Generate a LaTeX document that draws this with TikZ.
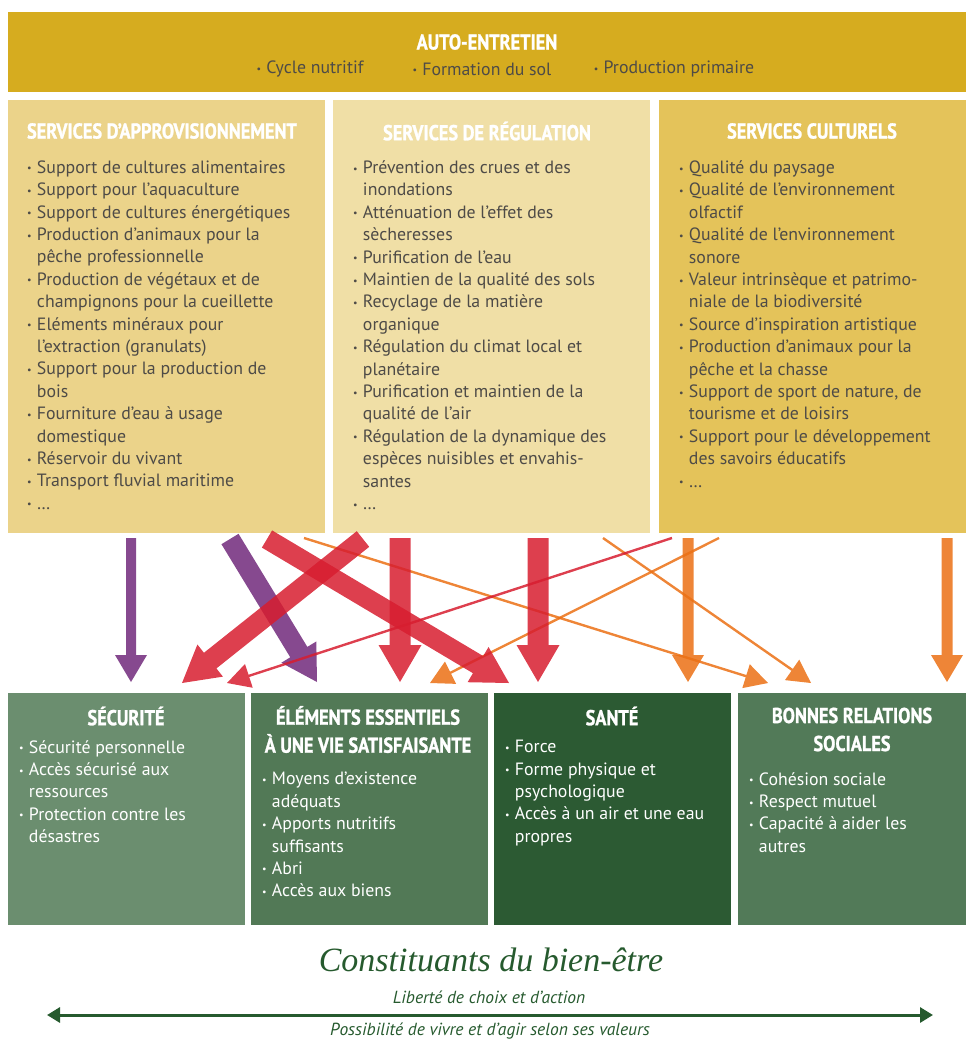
\documentclass[tikz,border=0pt]{standalone}
\usepackage{fontspec}
\setmainfont{PT Sans}
\newfontfamily\headfont[FakeStretch=0.85, BoldFeatures={FakeBold=1.2}]{PT Sans}
\newfontfamily\gardfont{Liberation Serif}
\usetikzlibrary{calc,arrows.meta}

\definecolor{autoent}{HTML}{D6AC1F}
\definecolor{approv}{HTML}{EBD38A}
\definecolor{regul}{HTML}{F0DFA6}
\definecolor{cultur}{HTML}{E4C35A}
\definecolor{secur}{HTML}{6B8E6F}
\definecolor{essent}{HTML}{527956}
\definecolor{sante}{HTML}{2C5A33}
\definecolor{relat}{HTML}{527A58}
\definecolor{txtgrey}{HTML}{4E4B47}
\definecolor{fpurple}{HTML}{71297B}
\definecolor{fred}{HTML}{D71D2F}
\definecolor{forange}{HTML}{EB7014}
\definecolor{darkgreen}{HTML}{265A2E}

\newcommand\bu{\makebox[0.55em][l]{\raisebox{0.08em}{\fontsize{10}{10}\selectfont\textbullet}}}
\newcommand\ti{\hspace*{0.55em}}

% fleche pleine: couleur, depart, arrivee, demi-largeur, demi-largeur de tete, longueur de tete
\newcommand\fatarrow[6]{%
  \coordinate (hb) at ($(#3)!#6!(#2)$);
  \fill[#1, fill opacity=.85] ($(#2)!#4!90:(#3)$) -- ($(hb)!#4!-90:(#2)$)
    -- ($(hb)!#5!-90:(#2)$) -- (#3) -- ($(hb)!#5!90:(#2)$)
    -- ($(hb)!#4!90:(#2)$) -- ($(#2)!#4!-90:(#3)$) -- cycle;}

\tikzset{
  panel/.style={anchor=north west, inner sep=0pt, outer sep=0pt},
  panelhead/.style={font=\headfont\bfseries\fontsize{21.5}{28}\selectfont, text=white, align=center, inner sep=0pt},
  itemlist/.style={anchor=north west, inner sep=0pt, align=left, font=\fontsize{17.8}{22.4}\selectfont},
}

\begin{document}
\begin{tikzpicture}[x=1pt,y=-1pt]
\useasboundingbox (0,0) rectangle (966,1039);

% auto-entretien
\node[panel, fill=autoent, minimum width=958pt, minimum height=80pt] (auto) at (8,12) {};
\node[panelhead] (autoT) at (487,42) {AUTO-ENTRETIEN};
\node[font=\fontsize{17.8}{20}\selectfont, text=txtgrey] (cycle) at (310,69) {\bu Cycle nutritif};
\node[font=\fontsize{17.8}{20}\selectfont, text=txtgrey] (sol) at (482,69) {\bu Formation du sol};
\node[font=\fontsize{17.8}{20}\selectfont, text=txtgrey] (prim) at (674,69) {\bu Production primaire};

% les trois services
\node[panel, fill=approv, minimum width=317pt, minimum height=433pt] (appro) at (8,100) {};
\node[panel, fill=regul, minimum width=317pt, minimum height=433pt] (regul) at (333,100) {};
\node[panel, fill=cultur, minimum width=307pt, minimum height=433pt] (cultur) at (659,100) {};

\node[panelhead] (approT) at (162,131) {SERVICES D’APPROVISIONNEMENT};
\node[panelhead] (regulT) at (487,131) {SERVICES DE RÉGULATION};
\node[panelhead] (culturT) at (812,131) {SERVICES CULTURELS};

\node[itemlist, text=txtgrey] (approL) at (27,160.5) {%
\bu Support de cultures alimentaires\\
\bu Support pour l’aquaculture\\
\bu Support de cultures énergétiques\\
\bu Production d’animaux pour la\\
\ti pêche professionnelle\\
\bu Production de végétaux et de\\
\ti champignons pour la cueillette\\
\bu Eléments minéraux pour\\
\ti l’extraction (granulats)\\
\bu Support pour la production de\\
\ti bois\\
\bu Fourniture d’eau à usage\\
\ti domestique\\
\bu Réservoir du vivant\\
\bu Transport fluvial maritime\\
\bu \dots};

\node[itemlist, text=txtgrey] (regulL) at (353,160.5) {%
\bu Prévention des crues et des\\
\ti inondations\\
\bu Atténuation de l’effet des\\
\ti sècheresses\\
\bu Purification de l’eau\\
\bu Maintien de la qualité des sols\\
\bu Recyclage de la matière\\
\ti organique\\
\bu Régulation du climat local et\\
\ti planétaire\\
\bu Purification et maintien de la\\
\ti qualité de l’air\\
\bu Régulation de la dynamique des\\
\ti espèces nuisibles et envahis-\\
\ti santes\\
\bu \dots};

\node[itemlist, text=txtgrey] (culturL) at (679,160.5) {%
\bu Qualité du paysage\\
\bu Qualité de l’environnement\\
\ti olfactif\\
\bu Qualité de l’environnement\\
\ti sonore\\
\bu Valeur intrinsèque et patrimo-\\
\ti niale de la biodiversité\\
\bu Source d’inspiration artistique\\
\bu Production d’animaux pour la\\
\ti pêche et la chasse\\
\bu Support de sport de nature, de\\
\ti tourisme et de loisirs\\
\bu Support pour le développement\\
\ti des savoirs éducatifs\\
\bu \dots};

% constituants du bien-etre
\node[panel, fill=secur, minimum width=237pt, minimum height=232pt] (secu) at (8,693) {};
\node[panel, fill=essent, minimum width=237pt, minimum height=232pt] (essen) at (251,693) {};
\node[panel, fill=sante, minimum width=237pt, minimum height=232pt] (sant) at (494,693) {};
\node[panel, fill=relat, minimum width=228pt, minimum height=232pt] (relat) at (738,693) {};

\node[panelhead] (secuT) at (126,716) {SÉCURITÉ};
\node[panelhead] (essenT) at (368,729.5) {ÉLÉMENTS ESSENTIELS\\À UNE VIE SATISFAISANTE};
\node[panelhead] (santT) at (612,716) {SANTÉ};
\node[panelhead] (relatT) at (852,729.5) {BONNES RELATIONS\\SOCIALES};

\node[itemlist, text=white] (secuL) at (19,740) {%
\bu Sécurité personnelle\\
\bu Accès sécurisé aux\\
\ti ressources\\
\bu Protection contre les\\
\ti désastres};
\node[itemlist, text=white] (essenL) at (262,772) {%
\bu Moyens d’existence\\
\ti adéquats\\
\bu Apports nutritifs\\
\ti suffisants\\
\bu Abri\\
\bu Accès aux biens};
\node[itemlist, text=white] (santL) at (505,740) {%
\bu Force\\
\bu Forme physique et\\
\ti psychologique\\
\bu Accès à un air et une eau\\
\ti propres};
\node[itemlist, text=white] (relatL) at (749,772) {%
\bu Cohésion sociale\\
\bu Respect mutuel\\
\bu Capacité à aider les\\
\ti autres};

% points de depart et d'arrivee des fleches
\coordinate (a1) at (131,538);  \coordinate (b1) at (131,682);
\coordinate (a2) at (230,539);  \coordinate (b2) at (317,682);
\coordinate (a3) at (267,539);  \coordinate (b3) at (509,683);
\coordinate (a4) at (363,539);  \coordinate (b4) at (182,683);
\coordinate (a5) at (400,538);  \coordinate (b5) at (400,682);
\coordinate (a6) at (538,538);  \coordinate (b6) at (538,682);
\coordinate (a7) at (672,538);  \coordinate (b7) at (227,683);
\coordinate (a8) at (304,538);  \coordinate (b8) at (768,683);
\coordinate (a9) at (603,538);  \coordinate (b9) at (811,683);
\coordinate (a10) at (719,538); \coordinate (b10) at (430,683);
\coordinate (a11) at (688,538); \coordinate (b11) at (688,682);
\coordinate (a12) at (947,538); \coordinate (b12) at (947,682);

% fleches
\fatarrow{forange}{a8}{b8}{1.2pt}{12.5pt}{23pt}
\fatarrow{forange}{a9}{b9}{1.2pt}{12.5pt}{23pt}
\fatarrow{forange}{a10}{b10}{1.2pt}{12.5pt}{23pt}
\fatarrow{forange}{a11}{b11}{5.5pt}{16pt}{27pt}
\fatarrow{forange}{a12}{b12}{5.5pt}{16pt}{27pt}
\fatarrow{fpurple}{a1}{b1}{5pt}{16pt}{27pt}
\fatarrow{fpurple}{a2}{b2}{10pt}{20.5pt}{35pt}
\fatarrow{fred}{a7}{b7}{1.2pt}{12.5pt}{23pt}
\fatarrow{fred}{a3}{b3}{10pt}{20.5pt}{36pt}
\fatarrow{fred}{a4}{b4}{10pt}{20.5pt}{36pt}
\fatarrow{fred}{a5}{b5}{10.5pt}{21.5pt}{37pt}
\fatarrow{fred}{a6}{b6}{10.5pt}{21.5pt}{37pt}

% legende du bas
\node[font=\gardfont\itshape\fontsize{34}{36}\selectfont, text=darkgreen] (constit) at (491,960) {Constituants du bien-être};
\node[font=\itshape\fontsize{17.5}{20}\selectfont, text=darkgreen] (liberte) at (489,997) {Liberté de choix et d’action};
\coordinate (gauche) at (47,1015);
\coordinate (droite) at (933,1015);
\draw[darkgreen, line width=3pt, {Triangle[width=15pt,length=13pt]}-{Triangle[width=15pt,length=13pt]}] (gauche) -- (droite);
\node[font=\itshape\fontsize{17.5}{20}\selectfont, text=darkgreen] (valeurs) at (490,1031) {Possibilité de vivre et d’agir selon ses valeurs};
\end{tikzpicture}
\end{document}
